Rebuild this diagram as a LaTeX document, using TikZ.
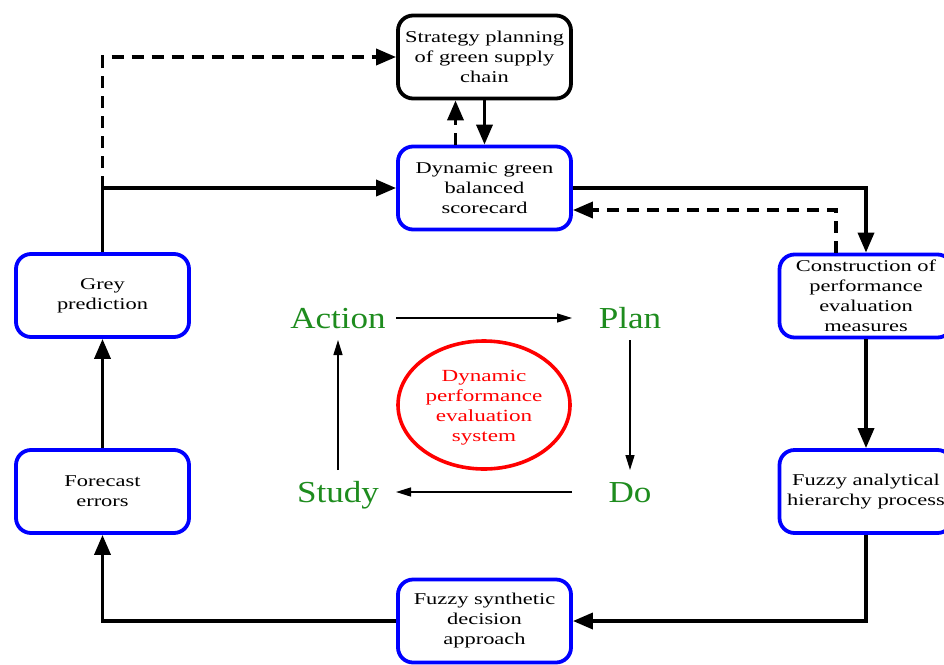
\documentclass[tikz,border=0pt]{standalone}
\usepackage{fontspec}
\setmainfont{Liberation Serif}[FakeStretch=1.36]
\newfontfamily\pdfont{Liberation Serif}[FakeStretch=1.15]
\usetikzlibrary{arrows.meta,shapes.geometric}
\definecolor{pdgreen}{RGB}{30,140,30}
\definecolor{boxblue}{RGB}{0,0,255}
\definecolor{ellred}{RGB}{255,0,0}
\tikzset{
  boxbase/.style={rectangle, rounded corners=15pt, draw, line width=3.8pt,
    minimum width=173pt, minimum height=83pt, align=center, inner sep=2pt,
    font=\fontsize{16.5}{20}\selectfont, fill=white},
  bluebox/.style={boxbase, draw=boxblue},
  blackbox/.style={boxbase, draw=black},
  conn/.style={line width=3.6pt, -{Triangle[length=20pt,width=16pt]}},
  dsh/.style={dash pattern=on 12pt off 8pt},
  pdca/.style={text=pdgreen, font=\pdfont\fontsize{30.5}{34}\selectfont, minimum width=116pt,
    minimum height=44pt, inner sep=0pt, outer sep=0pt, text height=20pt, text depth=0pt},
  thinarrow/.style={line width=1.4pt, -{Triangle[length=15pt,width=9pt]}},
  core/.style={ellipse, draw=ellred, line width=3.6pt, text=ellred, align=center,
    minimum width=172pt, minimum height=128pt, inner sep=0pt,
    font=\fontsize{17}{20}\selectfont}
}
\begin{document}
\begin{tikzpicture}[x=1pt,y=-1pt]
\useasboundingbox (0,0) rectangle (944,664);
\clip (0,0) rectangle (944,664);
\fill[white] (0,0) rectangle (944,664);

% boxes
\node[blackbox] (strat) at (484.5,57) {Strategy planning\\of green supply\\chain};
\node[bluebox] (bsc) at (484.5,188) {Dynamic green\\balanced\\scorecard};
\node[bluebox] (cons) at (866,296) {Construction of\\performance\\evaluation\\measures};
\node[bluebox] (ahp) at (866,491.5) {Fuzzy analytical\\hierarchy process};
\node[bluebox] (fsd) at (484.5,621) {Fuzzy synthetic\\decision\\approach};
\node[bluebox] (fe) at (102.5,491.5) {Forecast\\errors};
\node[bluebox] (grey) at (102.5,295.5) {Grey\\prediction};

% core
\node[core] (core) at (484,405) {\raisebox{-2.5pt}[\height][\depth]{\begin{tabular}{@{}c@{}}Dynamic\\performance\\evaluation\\system\end{tabular}}};

% PDCA
\node[pdca] (action) at (338,318) {Action};
\node[pdca] (plan) at (630,318) {Plan};
\node[pdca] (do) at (630,492) {Do};
\node[pdca] (study) at (338,492) {Study};
\draw[thinarrow] (action.east) -- (plan.west);
\draw[thinarrow] (plan.south) -- (do.north);
\draw[thinarrow] (do.west) -- (study.east);
\draw[thinarrow] (study.north) -- (action.south);

% connectors
\coordinate (j1) at (grey.north |- bsc.west);
\draw[conn] (grey.north) |- (bsc.west);
\draw[conn,dsh] (j1) |- (strat.west);
\draw[conn] (strat.south) -- (bsc.north);
\draw[conn,dsh] ([xshift=-29pt]bsc.north) -- ([xshift=-29pt]strat.south);
\draw[conn] (bsc.east) -| (cons.north);
\draw[conn,dsh] ([xshift=-30pt]cons.north) |- ([yshift=-22pt]bsc.east);
\draw[conn] (cons.south) -- (ahp.north);
\draw[conn] (ahp.south) |- (fsd.east);
\draw[conn] (fsd.west) -| (fe.south);
\draw[conn] (fe.north) -- (grey.south);
\end{tikzpicture}
\end{document}
